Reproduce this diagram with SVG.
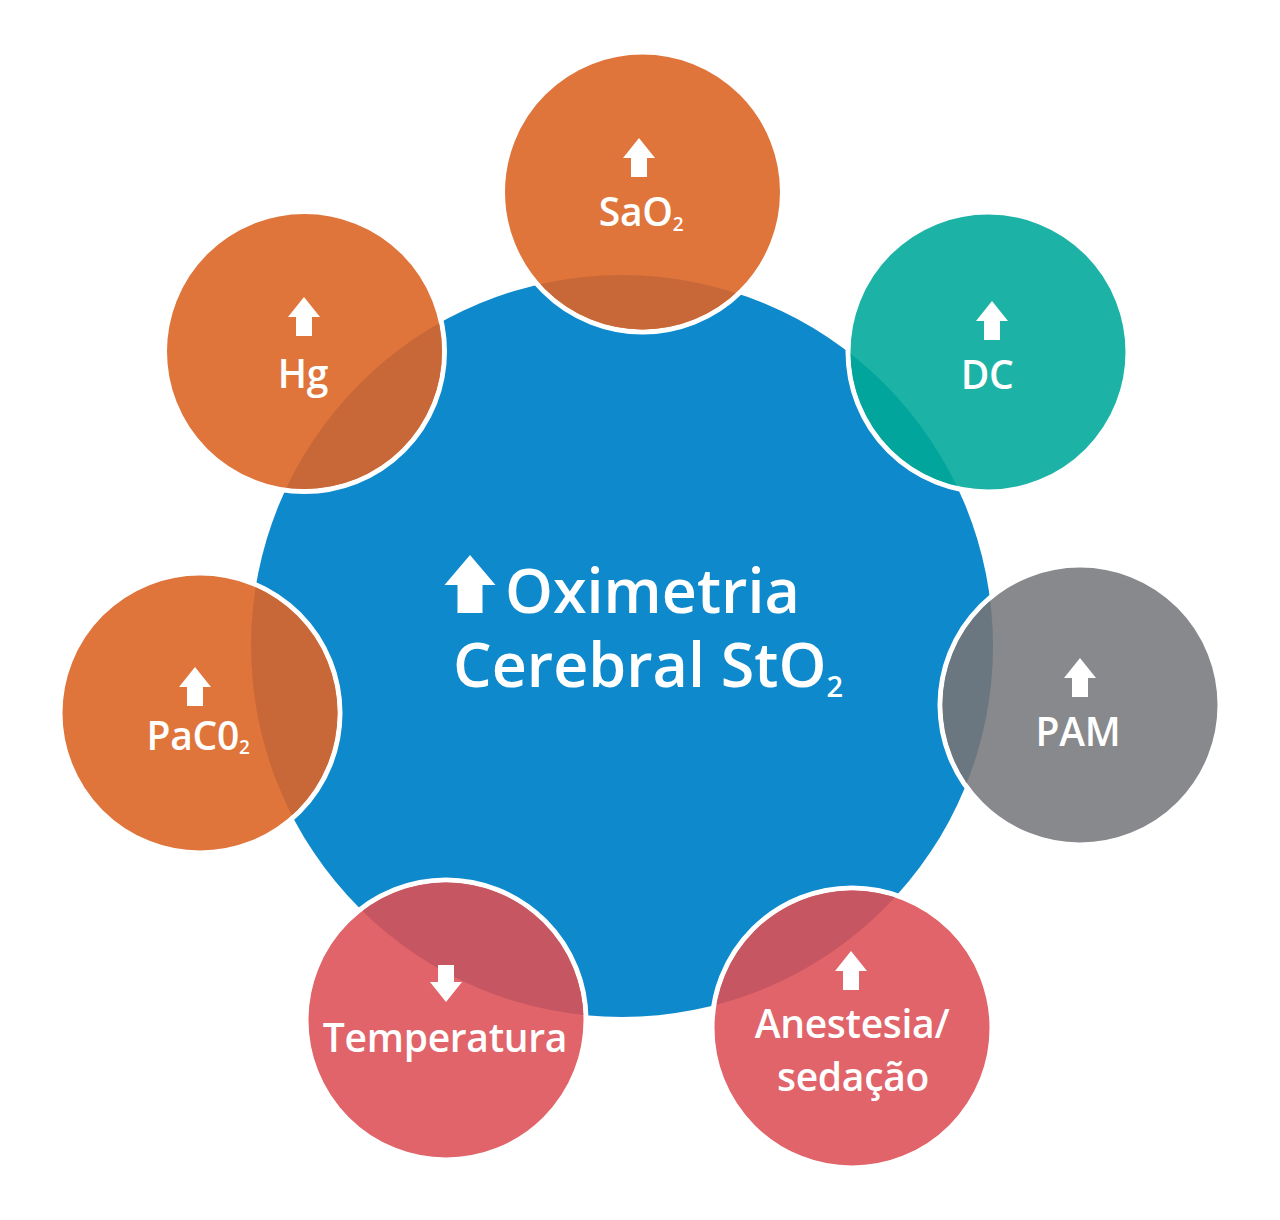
<svg xmlns="http://www.w3.org/2000/svg" xmlns:xlink="http://www.w3.org/1999/xlink" width="1280" height="1220" viewBox="0 0 1280 1220">
<style>
.sat{stroke:#ffffff;stroke-width:5}
.lbl{font-family:"Open Sans","Noto Sans","Liberation Sans",sans-serif;font-weight:600;font-size:39px;letter-spacing:-0.3px;fill:#ffffff;text-anchor:middle}
.main{font-family:"Open Sans","Noto Sans","Liberation Sans",sans-serif;font-weight:600;font-size:61px;fill:#ffffff}
.arr{fill:#ffffff}
.orange{fill:#e0753b}
.orangeO{fill:#c86838}
.teal{fill:#1cb3a6}
.tealO{fill:#02a59b}
.gray{fill:#88898c}
.grayO{fill:#6a7780}
.pink{fill:#e0646a}
.pinkO{fill:#c55662}
</style>
<defs>
<clipPath id="centralClip"><circle cx="622" cy="646" r="371"/></clipPath>
<path id="up" d="M0,0 L16,20 L8,20 L8,39 L-8,39 L-8,20 L-16,20 Z"/>
<path id="down" d="M0,0 L-16,-20 L-8,-20 L-8,-37 L8,-37 L8,-20 L16,-20 Z"/>
</defs>
<rect width="1280" height="1220" fill="#ffffff"/>
<g id="connectors"></g>
<g id="central">
<circle cx="622" cy="646" r="371" fill="#0e89cb"/>
</g>
<g id="sao2">
<circle class="sat orange" cx="642.5" cy="192" r="140"/>
<circle class="orangeO" cx="642.5" cy="192" r="137.5" clip-path="url(#centralClip)"/>
<use xlink:href="#up" class="arr" x="639" y="138"/>
<text class="lbl" x="641" y="226">SaO<tspan font-size="19" dy="5">2</tspan></text>
</g>
<g id="dc">
<circle class="sat teal" cx="988" cy="352" r="140"/>
<circle class="tealO" cx="988" cy="352" r="137.5" clip-path="url(#centralClip)"/>
<use xlink:href="#up" class="arr" x="992" y="301"/>
<text class="lbl" x="987" y="389">DC</text>
</g>
<g id="pam">
<circle class="sat gray" cx="1080" cy="705" r="140"/>
<circle class="grayO" cx="1080" cy="705" r="137.5" clip-path="url(#centralClip)"/>
<use xlink:href="#up" class="arr" x="1080" y="658"/>
<text class="lbl" x="1078" y="746">PAM</text>
</g>
<g id="anestesia">
<circle class="sat pink" cx="852" cy="1028" r="140"/>
<circle class="pinkO" cx="852" cy="1028" r="137.5" clip-path="url(#centralClip)"/>
<use xlink:href="#up" class="arr" x="851" y="951"/>
<text class="lbl" x="852" y="1038">Anestesia/</text>
<text class="lbl" x="853" y="1091">sedação</text>
</g>
<g id="temperatura">
<circle class="sat pink" cx="446" cy="1020" r="140"/>
<circle class="pinkO" cx="446" cy="1020" r="137.5" clip-path="url(#centralClip)"/>
<use xlink:href="#down" class="arr" x="446" y="1002"/>
<text class="lbl" x="445" y="1052">Temperatura</text>
</g>
<g id="paco2">
<circle class="sat orange" cx="200" cy="713" r="140"/>
<circle class="orangeO" cx="200" cy="713" r="137.5" clip-path="url(#centralClip)"/>
<use xlink:href="#up" class="arr" x="195" y="667"/>
<text class="lbl" x="198" y="750">PaC0<tspan font-size="19" dy="4">2</tspan></text>
</g>
<g id="hg">
<circle class="sat orange" cx="304.5" cy="351.5" r="140"/>
<circle class="orangeO" cx="304.5" cy="351.5" r="137.5" clip-path="url(#centralClip)"/>
<use xlink:href="#up" class="arr" x="304" y="297"/>
<text class="lbl" x="303" y="388">Hg</text>
</g>
<g id="central-label">
<path class="arr" d="M470,555 L495.5,585 L482.5,585 L482.5,613 L457.5,613 L457.5,585 L444.5,585 Z"/>
<text class="main" x="505" y="613">Oximetria</text>
<text class="main" x="453" y="687">Cerebral StO<tspan font-size="29" dy="10">2</tspan></text>
</g>
</svg>
